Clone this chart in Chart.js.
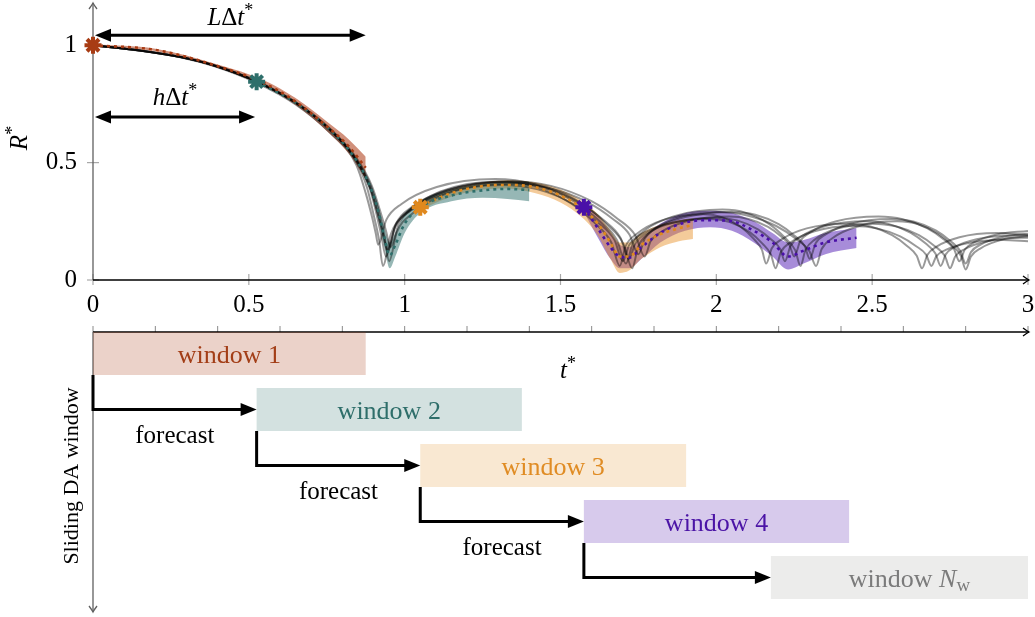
<!DOCTYPE html>
<html>
<head>
<meta charset="utf-8">
<script src="https://cdn.jsdelivr.net/npm/chart.js@4.4.1/dist/chart.umd.min.js"></script>
<style>
  html, body { margin: 0; padding: 0; background: #fff; }
  canvas { display: block; }
</style>
</head>
<body>
<canvas id="da_windows" width="1035" height="617"></canvas>
<script>
// ensemble members, [t*, R*]
const memberA = [[0,1],[0.15,0.978],[0.28,0.95],[0.39,0.913],[0.525,0.845],[0.65,0.755],[0.76,0.64],[0.845,0.51],[0.89,0.39],[0.912,0.29],[0.93,0.2],[0.945,0.12],
  [0.971,0.232],[1.02,0.303],[1.133,0.38],[1.32,0.415],[1.44,0.396],[1.56,0.33],[1.64,0.253],[1.692,0.181],[1.72,0.09],
  [1.74,0.157],[1.776,0.199],[1.86,0.244],[2.0,0.265],[2.066,0.254],[2.132,0.217],[2.176,0.173],[2.205,0.132],[2.22,0.08],
  [2.238,0.145],[2.272,0.185],[2.35,0.23],[2.48,0.25],[2.552,0.239],[2.624,0.201],[2.672,0.155],[2.703,0.113],[2.72,0.06],
  [2.736,0.109],[2.766,0.141],[2.835,0.174],[2.95,0.19],[3.0,0.188]];
const memberB = [[0,1],[0.15,0.978],[0.28,0.95],[0.39,0.913],[0.525,0.845],[0.65,0.755],[0.76,0.64],[0.845,0.505],[0.88,0.39],[0.9,0.28],[0.918,0.17],[0.93,0.06],
  [0.956,0.197],[1.004,0.283],[1.115,0.377],[1.3,0.42],[1.417,0.398],[1.534,0.326],[1.612,0.24],[1.663,0.16],[1.69,0.06],
  [1.709,0.144],[1.744,0.196],[1.825,0.254],[1.96,0.28],[2.02,0.267],[2.08,0.225],[2.12,0.175],[2.146,0.129],[2.16,0.07],
  [2.178,0.135],[2.212,0.175],[2.29,0.22],[2.42,0.24],[2.492,0.229],[2.564,0.191],[2.612,0.145],[2.643,0.103],[2.66,0.05],
  [2.677,0.107],[2.708,0.143],[2.78,0.182],[2.9,0.2],[3.0,0.192]];
const memberC = [[0,1],[0.15,0.978],[0.28,0.951],[0.39,0.915],[0.525,0.848],[0.65,0.758],[0.76,0.645],[0.845,0.52],[0.895,0.4],[0.92,0.3],[0.94,0.21],[0.955,0.14],
  [0.982,0.243],[1.032,0.307],[1.148,0.378],[1.34,0.41],[1.463,0.392],[1.586,0.332],[1.668,0.26],[1.721,0.194],[1.75,0.11],
  [1.771,0.178],[1.81,0.222],[1.9,0.268],[2.05,0.29],[2.125,0.278],[2.2,0.238],[2.25,0.19],[2.283,0.146],[2.3,0.09],
  [2.318,0.155],[2.352,0.195],[2.43,0.24],[2.56,0.26],[2.632,0.249],[2.704,0.211],[2.752,0.165],[2.783,0.123],[2.8,0.07],
  [2.817,0.119],[2.848,0.151],[2.92,0.184],[3.0,0.197]];
const memberD = [[0,1],[0.15,0.977],[0.28,0.949],[0.39,0.91],[0.525,0.84],[0.65,0.748],[0.76,0.628],[0.845,0.49],[0.875,0.37],[0.895,0.27],[0.907,0.2],[0.915,0.15],
  [0.941,0.256],[0.99,0.324],[1.103,0.396],[1.29,0.43],[1.416,0.408],[1.542,0.336],[1.626,0.25],[1.681,0.17],[1.71,0.07],
  [1.732,0.157],[1.772,0.213],[1.865,0.272],[2.02,0.3],[2.095,0.286],[2.17,0.238],[2.22,0.18],[2.253,0.127],[2.27,0.06],
  [2.286,0.128],[2.316,0.172],[2.385,0.218],[2.5,0.24],[2.575,0.229],[2.65,0.191],[2.7,0.145],[2.733,0.103],[2.75,0.05],
  [2.766,0.099],[2.796,0.131],[2.865,0.164],[2.98,0.18],[3.0,0.18]];
const memberE = [[0,1],[0.15,0.978],[0.28,0.95],[0.39,0.913],[0.525,0.845],[0.65,0.755],[0.76,0.64],[0.845,0.51],[0.888,0.39],[0.908,0.29],[0.925,0.19],[0.94,0.1],
  [0.968,0.222],[1.02,0.298],[1.14,0.382],[1.34,0.42],[1.469,0.401],[1.598,0.337],[1.684,0.26],[1.74,0.19],[1.77,0.1],
  [1.789,0.165],[1.824,0.205],[1.905,0.25],[2.04,0.27],[2.103,0.26],[2.166,0.226],[2.208,0.185],[2.235,0.148],[2.25,0.1],
  [2.269,0.165],[2.304,0.205],[2.385,0.25],[2.52,0.27],[2.598,0.259],[2.676,0.221],[2.728,0.175],[2.762,0.133],[2.78,0.08],
  [2.797,0.129],[2.828,0.161],[2.9,0.194],[3.0,0.209]];
const memberF = [[0,1],[0.15,0.978],[0.28,0.95],[0.39,0.914],[0.525,0.846],[0.65,0.757],[0.76,0.643],[0.845,0.515],[0.892,0.4],[0.915,0.3],[0.935,0.19],[0.95,0.08],
  [0.975,0.204],[1.022,0.28],[1.13,0.366],[1.31,0.405],[1.427,0.386],[1.544,0.321],[1.622,0.243],[1.673,0.171],[1.7,0.08],
  [1.72,0.148],[1.756,0.192],[1.84,0.238],[1.98,0.26],[2.043,0.247],[2.106,0.205],[2.148,0.155],[2.175,0.109],[2.19,0.05],
  [2.207,0.118],[2.24,0.162],[2.315,0.208],[2.44,0.23],[2.515,0.22],[2.59,0.186],[2.64,0.145],[2.673,0.108],[2.69,0.06],
  [2.706,0.102],[2.736,0.128],[2.805,0.157],[2.92,0.17],[3.0,0.165]];
const memberG = [[0,1],[0.15,0.978],[0.28,0.95],[0.39,0.913],[0.525,0.845],[0.65,0.755],[0.76,0.64],[0.845,0.51],[0.89,0.39],[0.912,0.29],[0.93,0.2],[0.945,0.13],
  [0.972,0.24],[1.022,0.31],[1.138,0.385],[1.33,0.42],[1.45,0.398],[1.57,0.324],[1.65,0.235],[1.702,0.154],[1.73,0.05],
  [1.749,0.141],[1.784,0.199],[1.865,0.261],[2.0,0.29],[2.096,0.276],[2.192,0.23],[2.256,0.175],[2.298,0.124],[2.32,0.06],
  [2.338,0.132],[2.372,0.178],[2.45,0.227],[2.58,0.25],[2.646,0.238],[2.712,0.197],[2.756,0.148],[2.785,0.102],[2.8,0.045],
  [2.817,0.1],[2.848,0.135],[2.92,0.173],[3.0,0.186]];
const members = [memberA, memberB, memberC, memberD, memberE, memberF, memberG];

// per-window ensemble mean and spread
const win1T    = [0, 0.2, 0.4, 0.55, 0.65, 0.75, 0.82, 0.875];
const win1Mean = [1, 0.98, 0.911, 0.838, 0.76, 0.655, 0.57, 0.478];
const win1Hi   = [1.004, 0.985, 0.918, 0.85, 0.775, 0.675, 0.6, 0.525];
const win1Lo   = [0.996, 0.975, 0.905, 0.825, 0.745, 0.635, 0.54, 0.43];

const win2T    = [0.525, 0.65, 0.76, 0.845, 0.89, 0.915, 0.935, 0.952, 0.97, 1.0, 1.05, 1.15, 1.25, 1.33, 1.4];
const win2Mean = [0.845, 0.755, 0.64, 0.51, 0.395, 0.295, 0.18, 0.105, 0.15, 0.24, 0.31, 0.36, 0.382, 0.388, 0.383];
const win2Hi   = [0.85, 0.76, 0.648, 0.52, 0.41, 0.32, 0.22, 0.16, 0.2, 0.28, 0.335, 0.385, 0.41, 0.42, 0.42];
const win2Lo   = [0.84, 0.75, 0.632, 0.5, 0.38, 0.27, 0.14, 0.05, 0.1, 0.2, 0.285, 0.335, 0.35, 0.345, 0.335];

const win3T    = [1.05, 1.15, 1.25, 1.33, 1.42, 1.5, 1.575, 1.62, 1.66, 1.69, 1.72, 1.76, 1.82, 1.88, 1.925];
const win3Mean = [0.315, 0.37, 0.4, 0.405, 0.395, 0.36, 0.3, 0.24, 0.16, 0.1, 0.1, 0.15, 0.195, 0.22, 0.235];
const win3Hi   = [0.33, 0.385, 0.415, 0.425, 0.415, 0.385, 0.33, 0.28, 0.21, 0.16, 0.16, 0.2, 0.235, 0.255, 0.262];
const win3Lo   = [0.3, 0.355, 0.385, 0.39, 0.37, 0.33, 0.26, 0.19, 0.09, 0.03, 0.04, 0.09, 0.14, 0.165, 0.175];

const win4T    = [1.575, 1.62, 1.66, 1.69, 1.72, 1.76, 1.82, 1.9, 1.98, 2.05, 2.12, 2.18, 2.23, 2.28, 2.35, 2.45];
const win4Mean = [0.31, 0.22, 0.14, 0.1, 0.095, 0.14, 0.2, 0.245, 0.255, 0.25, 0.21, 0.16, 0.1, 0.125, 0.16, 0.18];
const win4Hi   = [0.33, 0.27, 0.2, 0.15, 0.14, 0.18, 0.24, 0.285, 0.295, 0.285, 0.25, 0.2, 0.16, 0.17, 0.2, 0.222];
const win4Lo   = [0.29, 0.18, 0.09, 0.05, 0.05, 0.09, 0.16, 0.21, 0.225, 0.21, 0.16, 0.1, 0.045, 0.07, 0.11, 0.136];

// analysis points at the start of each window
const anchorT = [0, 0.525, 1.05, 1.575];
const anchorR = [1.0, 0.845, 0.31, 0.31];

// sliding windows
const windowLabels = ['window 1', 'window 2', 'window 3', 'window 4', 'window N_w'];
const windowStart = [0, 0.525, 1.05, 1.575, 2.175];
const windowEnd   = [0.875, 1.376, 1.903, 2.426, 3.0];
const horizonL = 0.875;   // L Δt*
const stepH = 0.52;       // h Δt*

const xTicks = [0, 0.5, 1, 1.5, 2, 2.5, 3];
const yTicks = [0, 0.5, 1];
const lowerTicks = [0, 0.2, 0.4, 0.6, 0.8, 1, 1.2, 1.4, 1.6, 1.8, 2, 2.2, 2.4, 2.6, 2.8, 3];

const markColor = ['#a83c14', '#2e6f6b', '#e0891e', '#4a10a8'];
const bandColor = ['rgba(178,70,35,0.6)', 'rgba(46,111,107,0.5)', 'rgba(230,140,30,0.45)', 'rgba(95,45,185,0.55)'];
const boxFill = ['rgba(168,60,20,0.23)', 'rgba(46,111,107,0.21)', 'rgba(224,138,30,0.2)', 'rgba(75,15,168,0.22)', 'rgba(120,120,110,0.14)'];
const boxText = ['#a33e17', '#2e6e6a', '#e08c24', '#4b14a6', '#7b7b7b'];

const SERIF = '"Liberation Serif", "DejaVu Serif", serif';
const pts = (t, r) => t.map((v, i) => ({ x: v, y: r[i] }));

const datasets = [];
datasets.push({
  data: pts(anchorT, anchorR), showLine: false, pointStyle: 'star', pointRadius: 8.5,
  pointBorderWidth: 4, pointBorderColor: markColor, pointBackgroundColor: markColor, clip: false, order: 0
});
const means = [[win1T, win1Mean], [win2T, win2Mean], [win3T, win3Mean], [win4T, win4Mean]];
means.forEach(([t, m], i) => datasets.push({
  data: pts(t, m), borderColor: markColor[i], borderWidth: 2.6, borderDash: [3, 4],
  pointRadius: 0, cubicInterpolationMode: 'monotone', fill: false, order: 1
}));
members.forEach(m => datasets.push({
  data: m.map(([x, y]) => ({ x, y })), borderColor: 'rgba(0,0,0,0.4)', borderWidth: 2,
  pointRadius: 0, cubicInterpolationMode: 'monotone', fill: false, order: 2
}));
const bands = [[win1T, win1Hi, win1Lo], [win2T, win2Hi, win2Lo], [win3T, win3Hi, win3Lo], [win4T, win4Hi, win4Lo]];
bands.forEach(([t, hi, lo], i) => {
  datasets.push({ data: pts(t, hi), borderColor: 'rgba(0,0,0,0)', borderWidth: 0, pointRadius: 0,
    cubicInterpolationMode: 'monotone', fill: '+1', backgroundColor: bandColor[i], order: 3 + i });
  datasets.push({ data: pts(t, lo), borderColor: 'rgba(0,0,0,0)', borderWidth: 0, pointRadius: 0,
    cubicInterpolationMode: 'monotone', fill: false, order: 3 + i });
});

function font(size, italic) { return (italic ? 'italic ' : '') + size + 'px ' + SERIF; }

// parts: [text, kind]; kind 'i' italic, 'r' roman, '^' superscript, '_' subscript
function drawMath(ctx, parts, x, y, size, align) {
  const pieces = parts.map(([txt, kind]) => {
    const small = kind === '^' || kind === '_';
    const f = font(small ? Math.round(size * 0.72) : size, kind === 'i');
    ctx.font = f;
    const dy = kind === '^' ? -size * 0.36 : kind === '_' ? size * 0.18 : 0;
    return { txt, f, dy, w: ctx.measureText(txt).width };
  });
  const total = pieces.reduce((s, p) => s + p.w, 0);
  let cx = align === 'center' ? x - total / 2 : align === 'right' ? x - total : x;
  ctx.textAlign = 'left';
  ctx.textBaseline = 'alphabetic';
  pieces.forEach(p => { ctx.font = p.f; ctx.fillText(p.txt, cx, y + p.dy); cx += p.w; });
}

function seg(ctx, x0, y0, x1, y1) { ctx.beginPath(); ctx.moveTo(x0, y0); ctx.lineTo(x1, y1); ctx.stroke(); }

// thin axis arrow tip
function openHead(ctx, x, y, ang) {
  ctx.save(); ctx.translate(x, y); ctx.rotate(ang);
  ctx.beginPath(); ctx.moveTo(-6, -4); ctx.quadraticCurveTo(-2, -1, 0, 0); ctx.quadraticCurveTo(-2, 1, -6, 4); ctx.stroke();
  ctx.restore();
}

// filled arrow tip
function solidHead(ctx, x, y, ang) {
  ctx.save(); ctx.translate(x, y); ctx.rotate(ang);
  ctx.beginPath(); ctx.moveTo(0, 0); ctx.lineTo(-16, -6.5); ctx.lineTo(-16, 6.5); ctx.closePath(); ctx.fill();
  ctx.restore();
}

const axesPlugin = {
  id: 'axesPlugin',
  beforeDatasetsDraw(chart) {
    const { ctx, chartArea: a, scales: { x, y } } = chart;
    ctx.save();
    ctx.strokeStyle = '#a8a8a8'; ctx.lineWidth = 1.2;
    xTicks.forEach(t => { const px = x.getPixelForValue(t); seg(ctx, px, a.bottom - 6, px, a.bottom + 5); });
    yTicks.forEach(v => { const py = y.getPixelForValue(v); seg(ctx, a.left - 6, py, a.left + 6, py); });
    ctx.strokeStyle = '#606060'; ctx.lineWidth = 1.3;
    seg(ctx, a.left, a.bottom, a.left, a.top);
    openHead(ctx, a.left, a.top, -Math.PI / 2);
    ctx.strokeStyle = '#000';
    seg(ctx, a.left, a.bottom, a.right + 1, a.bottom);
    openHead(ctx, a.right + 1, a.bottom, 0);
    ctx.restore();
  },
  afterDraw(chart) {
    const { ctx, chartArea: a, scales: { x, y } } = chart;
    ctx.save();
    ctx.fillStyle = '#000'; ctx.strokeStyle = '#000';

    // horizon arrows
    const x0 = x.getPixelForValue(0) + 2;
    const yL = y.getPixelForValue(1.043), yH = y.getPixelForValue(0.694);
    const xL = x.getPixelForValue(horizonL), xH = x.getPixelForValue(stepH);
    ctx.lineWidth = 3;
    seg(ctx, x0 + 10, yL, xL - 10, yL); solidHead(ctx, x0, yL, Math.PI); solidHead(ctx, xL, yL, 0);
    seg(ctx, x0 + 10, yH, xH - 10, yH); solidHead(ctx, x0, yH, Math.PI); solidHead(ctx, xH, yH, 0);
    drawMath(ctx, [['L', 'i'], ['Δ', 'r'], ['t', 'i'], ['*', '^']], (x0 + xL) / 2, yL - 10, 25, 'center');
    drawMath(ctx, [['h', 'i'], ['Δ', 'r'], ['t', 'i'], ['*', '^']], (x0 + xH) / 2, yH - 12, 25, 'center');

    // y title
    ctx.save(); ctx.translate(27, 138); ctx.rotate(-Math.PI / 2);
    drawMath(ctx, [['R', 'i'], ['*', '^']], 0, 0, 25, 'center');
    ctx.restore();

    // lower time axis and sliding windows
    const base = a.bottom + 52, rowStep = 56, rowH = 43;
    ctx.strokeStyle = '#8a8a8a'; ctx.lineWidth = 1;
    lowerTicks.forEach(t => { const px = x.getPixelForValue(t); seg(ctx, px, base - 6, px, base); });
    ctx.strokeStyle = '#000'; ctx.lineWidth = 1.3;
    seg(ctx, a.left, base, a.right + 1, base); openHead(ctx, a.right + 1, base, 0);
    ctx.strokeStyle = '#606060';
    seg(ctx, a.left, base, a.left, base + 280); openHead(ctx, a.left, base + 280, Math.PI / 2);

    windowLabels.forEach((lab, i) => {
      const xs = x.getPixelForValue(windowStart[i]), xe = x.getPixelForValue(windowEnd[i]);
      const top = base + i * rowStep;
      ctx.fillStyle = boxFill[i];
      ctx.fillRect(xs, top, xe - xs, rowH);
      ctx.fillStyle = boxText[i];
      const parts = lab === 'window N_w' ? [['window ', 'r'], ['N', 'i'], ['w', '_']] : [[lab, 'r']];
      drawMath(ctx, parts, (xs + xe) / 2 + (i === 4 ? 10 : 0), top + rowH / 2 + 9, 26, 'center');
    });

    ctx.fillStyle = '#000'; ctx.strokeStyle = '#000'; ctx.lineWidth = 3;
    for (let i = 0; i < windowStart.length - 1; i++) {
      const xa = x.getPixelForValue(windowStart[i]), xb = x.getPixelForValue(windowStart[i + 1]);
      const y0 = base + i * rowStep + rowH, y1 = base + (i + 1) * rowStep + rowH / 2;
      ctx.beginPath(); ctx.moveTo(xa, y0); ctx.lineTo(xa, y1); ctx.lineTo(xb - 12, y1); ctx.stroke();
      solidHead(ctx, xb, y1, 0);
      if (i < 3) drawMath(ctx, [['forecast', 'r']], (xa + xb) / 2, y1 + 33, 25, 'center');
    }

    drawMath(ctx, [['t', 'i'], ['*', '^']], 568, base + 46, 25, 'center');

    ctx.save(); ctx.translate(78, 476); ctx.rotate(-Math.PI / 2);
    drawMath(ctx, [['Sliding DA window', 'r']], 0, 0, 22, 'center');
    ctx.restore();
    ctx.restore();
  }
};

new Chart(document.getElementById('da_windows').getContext('2d'), {
  type: 'line',
  data: { datasets },
  options: {
    responsive: false,
    animation: false,
    devicePixelRatio: 1,
    layout: { autoPadding: false, padding: { top: 3, right: 7, left: 0, bottom: 0 } },
    plugins: { legend: { display: false }, tooltip: { enabled: false } },
    scales: {
      x: {
        type: 'linear', min: 0, max: 3,
        grid: { display: false, drawTicks: false }, border: { display: false },
        afterBuildTicks: s => { s.ticks = xTicks.map(v => ({ value: v })); },
        ticks: { font: { family: SERIF, size: 25 }, color: '#000', padding: 10, maxRotation: 0,
          callback: v => String(v) },
        afterFit: s => { s.height = 337; s.paddingLeft = 0; s.paddingRight = 0; }
      },
      y: {
        type: 'linear', min: 0, max: 1.18,
        grid: { display: false, drawTicks: false }, border: { display: false },
        afterBuildTicks: s => { s.ticks = yTicks.map(v => ({ value: v })); },
        ticks: { font: { family: SERIF, size: 25, lineHeight: 0.2 }, color: '#000', padding: 16,
          callback: v => String(v) },
        afterFit: s => { s.width = 93; s.paddingTop = 0; s.paddingBottom = 0; }
      }
    }
  },
  plugins: [axesPlugin]
});
</script>
</body>
</html>
